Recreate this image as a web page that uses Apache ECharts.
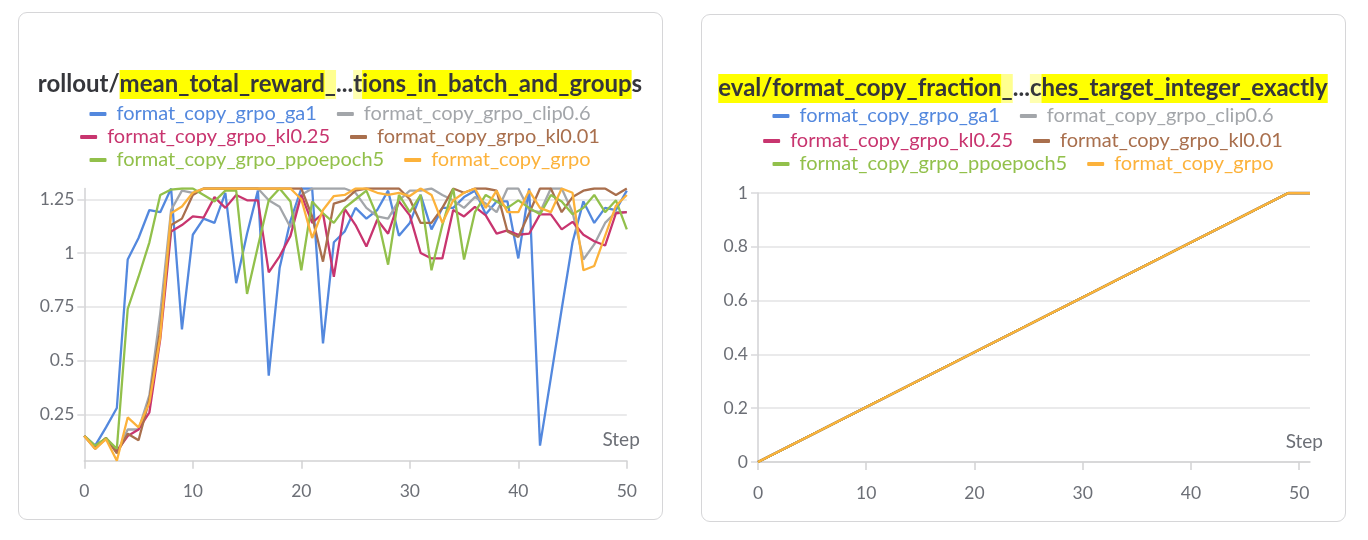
<!DOCTYPE html>
<html><head><meta charset="utf-8">
<script src="https://cdn.jsdelivr.net/npm/echarts@6/dist/echarts.min.js"></script>
<style>
html,body{margin:0;padding:0;background:#fff;width:1368px;height:540px;overflow:hidden;}
.card{position:absolute;box-sizing:border-box;border:1.5px solid #d6d6d8;border-radius:9px;width:645px;height:508px;background:#fff;}
.chart{position:absolute;left:0;top:0;width:642px;height:505px;}
</style></head>
<body>
<div class="card" style="left:18px;top:12px;"><div id="c1" class="chart"></div></div>
<div class="card" style="left:701px;top:14px;"><div id="c2" class="chart"></div></div>
<script>
const steps = [0,1,2,3,4,5,6,7,8,9,10,11,12,13,14,15,16,17,18,19,20,21,22,23,24,25,26,27,28,29,30,31,32,33,34,35,36,37,38,39,40,41,42,43,44,45,46,47,48,49,50];
const seriesNames = ['format_copy_grpo_ga1','format_copy_grpo_clip0.6','format_copy_grpo_kl0.25','format_copy_grpo_kl0.01','format_copy_grpo_ppoepoch5','format_copy_grpo'];
const seriesColors = ['#5388de','#a3a6aa','#c8356f','#a96f4d','#92c04b','#fcb23b'];

const ga1 = [0.15,0.105,0.19,0.28,0.97,1.07,1.20,1.19,1.30,0.645,1.085,1.16,1.14,1.28,0.86,1.09,1.29,0.43,0.93,1.15,1.30,1.30,0.58,1.05,1.10,1.21,1.16,1.20,1.29,1.08,1.14,1.27,1.11,1.21,1.21,1.26,1.29,1.18,1.24,1.24,0.975,1.30,0.105,0.42,0.74,1.05,1.24,1.14,1.21,1.20,1.29];
const clip06 = [0.15,0.10,0.14,0.07,0.18,0.18,0.34,0.72,1.20,1.29,1.28,1.30,1.30,1.30,1.30,1.30,1.30,1.245,1.215,1.12,1.27,1.30,1.30,1.30,1.30,1.28,1.21,1.17,1.16,1.245,1.29,1.29,1.30,1.27,1.245,1.21,1.26,1.23,1.19,1.30,1.30,1.20,1.19,1.30,1.30,1.19,0.97,1.04,1.14,1.19,1.19];
const kl025 = [0.15,0.10,0.14,0.08,0.15,0.18,0.26,0.60,1.10,1.13,1.17,1.165,1.26,1.21,1.27,1.245,1.245,0.91,0.985,1.08,1.27,1.14,1.185,0.89,1.205,1.13,1.03,1.155,1.09,1.24,1.175,1.0,0.975,0.975,1.20,1.17,1.215,1.175,1.09,1.105,1.085,1.09,1.18,1.18,1.11,1.145,1.085,1.055,1.035,1.185,1.19];
const kl001 = [0.15,0.09,0.14,0.07,0.16,0.13,0.32,0.645,1.13,1.16,1.27,1.30,1.30,1.30,1.30,1.30,1.30,1.30,1.30,1.30,1.30,1.17,0.96,1.23,1.245,1.29,1.30,1.30,1.30,1.30,1.25,1.14,1.14,1.21,1.30,1.28,1.30,1.30,1.29,1.10,1.075,1.185,1.30,1.30,1.19,1.26,1.29,1.30,1.30,1.27,1.30];
const ppoepoch5 = [0.15,0.105,0.14,0.09,0.74,0.89,1.05,1.27,1.295,1.30,1.30,1.27,1.24,1.29,1.29,0.81,1.03,1.245,1.30,1.24,0.92,1.24,1.185,1.14,1.21,1.25,1.29,1.17,0.946,1.27,1.19,1.27,0.92,1.13,1.30,0.97,1.19,1.27,1.24,1.21,1.245,1.21,1.18,1.27,1.24,1.18,1.21,1.27,1.19,1.245,1.11];
const grpo = [0.15,0.09,0.135,0.035,0.236,0.19,0.305,0.61,1.185,1.216,1.28,1.30,1.30,1.30,1.30,1.30,1.30,1.30,1.30,1.30,1.25,1.07,1.20,1.265,1.27,1.30,1.30,1.28,1.27,1.28,1.265,1.30,1.27,1.14,1.245,1.28,1.30,1.21,1.29,1.19,1.19,1.29,1.21,1.19,1.30,1.28,0.92,0.94,1.08,1.22,1.27];
const rewardSeries = [ga1, clip06, kl025, kl001, ppoepoch5, grpo];

const evalSteps = [0,49,51];
const evalFraction = [0,1,1];

const leftYTicks = [0.25,0.5,0.75,1,1.25];
const xTicksLeft = [0,10,20,30,40,50];
const xTicksRight = [0,10,20,30,40,50];

const FONT = 'Lato';
const axisGray = '#6c6f76';

function makeLegends(tops){
  const rows = [[0,1],[2,3],[4,5]];
  return rows.map((r,i)=>({
    top: tops[i], left:'center', icon:'roundRect', itemWidth:17, itemHeight:4, itemGap:20,
    selectedMode:false,
    textStyle:{fontFamily:FONT,fontSize:20,padding:[0,0,0,5]},
    data: r.map(k=>({name:seriesNames[k], textStyle:{color:seriesColors[k]}}))
  }));
}

function titleOpt(text, top){
  const base = {fontFamily:FONT,fontSize:24,fontWeight:'bold',color:'#35363b',lineHeight:29};
  return {
    text: text, left:'center', top: top,
    textStyle:{
      fontFamily:FONT, fontSize:24, fontWeight:'bold', color:'#35363b',
      rich:{
        n:Object.assign({},base),
        h:Object.assign({backgroundColor:'#ffff00',height:29},base),
        f:Object.assign({backgroundColor:'#ffff90',height:29},base),
        g:Object.assign({backgroundColor:'#ffffb0',height:29},base)
      }
    }
  };
}

function xAxisOpt(max, ticks){
  return {
    type:'value', min:0, max:max, interval:10,
    name:'Step', nameLocation:'end', nameGap:13,
    nameTextStyle:{fontFamily:FONT,fontSize:19,color:axisGray,align:'right',verticalAlign:'bottom',padding:[0,0,11,0]},
    axisLine:{show:true,lineStyle:{color:'#d2d2d4',width:1.5}},
    axisTick:{show:true,length:8,lineStyle:{color:'#d2d2d4',width:1.5},customValues:ticks},
    axisLabel:{fontFamily:FONT,fontSize:17.5,color:axisGray,margin:22,customValues:ticks},
    splitLine:{show:false}
  };
}

const c1 = echarts.init(document.getElementById('c1'), null, {renderer:'canvas'});
c1.setOption({
  animation:false,
  title: titleOpt('{n|rollout/}{h|mean_total_reward}{f|_}{n|...}{g|t}{h|ions_in_batch_and_group}{n|s}', 52),
  legend: makeLegends([86,109,132]),
  grid:{left:65.3,right:34.2,top:175.5,bottom:57.3,containLabel:false},
  xAxis: xAxisOpt(50, xTicksLeft),
  yAxis:{
    type:'value', min:0.035, max:1.3,
    axisLine:{show:true,lineStyle:{color:'#d2d2d4',width:1.5}},
    axisTick:{show:true,length:7,lineStyle:{color:'#d9d9db',width:1.5},customValues:leftYTicks},
    axisLabel:{fontFamily:FONT,fontSize:17.5,color:axisGray,margin:10,customValues:leftYTicks},
    splitLine:{show:true,lineStyle:{color:'#e3e3e5',width:1.5}}
  },
  series: rewardSeries.map((arr,k)=>({
    name:seriesNames[k], type:'line', showSymbol:false, symbol:'none',
    lineStyle:{width:2.3,color:seriesColors[k]}, itemStyle:{color:seriesColors[k]},
    data: steps.map((s,i)=>[s,arr[i]])
  }))
});

const c2 = echarts.init(document.getElementById('c2'), null, {renderer:'canvas'});
c2.setOption({
  animation:false,
  title: titleOpt('{h|eval/format_copy_fraction}{f|_}{n|...}{g|c}{h|hes_target_integer_exactly}', 54),
  legend: makeLegends([86,111,134]),
  grid:{left:56,right:34,top:178,bottom:58,containLabel:false},
  xAxis: xAxisOpt(51, xTicksRight),
  yAxis:{
    type:'value', min:0, max:1, interval:0.2,
    axisLine:{show:true,lineStyle:{color:'#d2d2d4',width:1.5}},
    axisTick:{show:true,length:7,lineStyle:{color:'#d9d9db',width:1.5}},
    axisLabel:{fontFamily:FONT,fontSize:17.5,color:axisGray,margin:10},
    splitLine:{show:true,lineStyle:{color:'#e3e3e5',width:1.5}}
  },
  series: seriesNames.map((nm,k)=>({
    name:nm, type:'line', showSymbol:false, symbol:'none',
    lineStyle:{width:2.3,color:seriesColors[k]}, itemStyle:{color:seriesColors[k]},
    data: evalSteps.map((s,i)=>[s,evalFraction[i]])
  }))
});
</script>
</body></html>
